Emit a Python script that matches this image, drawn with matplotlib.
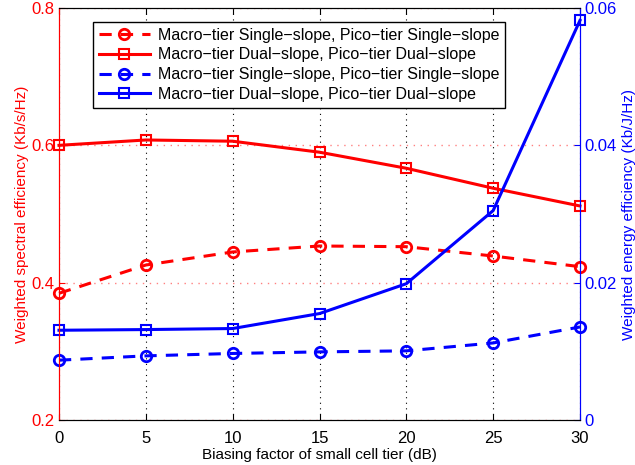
import numpy as np
import matplotlib.pyplot as plt

plt.rcParams['font.family'] = ['Liberation Sans', 'DejaVu Sans']

bias_db = [0, 5, 10, 15, 20, 25, 30]
se_single = [0.3845, 0.4257, 0.4447, 0.4534, 0.4524, 0.4388, 0.4233]
se_dual = [0.600, 0.6078, 0.606, 0.590, 0.5666, 0.5375, 0.5117]
ee_single = [0.00871, 0.00934, 0.00969, 0.00992, 0.01007, 0.01122, 0.01355]
ee_dual = [0.01307, 0.01317, 0.01332, 0.0155, 0.01985, 0.0305, 0.0582]

labels = ["Macro\u2212tier Single\u2212slope, Pico\u2212tier Single\u2212slope",
          "Macro\u2212tier Dual\u2212slope, Pico\u2212tier Dual\u2212slope"]

fig = plt.figure(figsize=(6.35, 4.65), dpi=100)
ax = fig.add_axes([59/635, 45/465, 521/635, 412/465])
ax2 = ax.twinx()

l1, = ax.plot(bias_db, se_single, 'r--o', lw=2.2, ms=7.5, mfc='none', mew=2, dashes=(4, 3))
l2, = ax.plot(bias_db, se_dual, 'r-s', lw=2.2, ms=6.5, mfc='none', mew=1.5)
l3, = ax2.plot(bias_db, ee_single, 'b--o', lw=2.2, ms=7.5, mfc='none', mew=2, dashes=(4, 3))
l4, = ax2.plot(bias_db, ee_dual, 'b-s', lw=2.2, ms=6.5, mfc='none', mew=1.5)
for l in (l1, l2, l3, l4):
    l.set_clip_on(False)

ax.set_xlim(0, 30)
ax.set_ylim(0.2, 0.8)
ax.set_xticks(bias_db)
ax.set_yticks([0.2, 0.4, 0.6, 0.8])
ax2.set_ylim(0, 0.06)
ax2.set_yticks([0, 0.02, 0.04, 0.06])
ax2.set_yticklabels(['0', '0.02', '0.04', '0.06'])

ax.xaxis.grid(True, linestyle=(0, (1, 4)), color='black', lw=0.8)
ax.yaxis.grid(True, linestyle=(0, (1, 4)), color='#ff8080', lw=1.0)

ax.tick_params(axis='x', direction='in', labelsize=12, top=True, length=4, pad=8)
ax.tick_params(axis='y', direction='in', colors='red', labelsize=12, length=4, pad=3)
ax2.tick_params(axis='y', direction='in', colors='blue', labelsize=12, length=4, pad=3)

ax.spines['left'].set_color('red')
ax2.spines['left'].set_color('red')
ax2.spines['right'].set_color('blue')
ax.spines['right'].set_color('blue')

ax.set_xlabel("Biasing factor of small cell tier (dB)", fontsize=11, labelpad=1)
ax.set_ylabel("Weighted spectral efficiency (Kb/s/Hz)", color='red', fontsize=11, labelpad=2)
ax2.set_ylabel("Weighted energy efficiency (Kb/J/Hz)", color='blue', fontsize=11, labelpad=4)

ax2.legend([l1, l2, l3, l4], labels * 2, loc='upper left',
           bbox_to_anchor=(34/521, 1 - 14/412), fontsize=11.5, frameon=True,
           fancybox=False, edgecolor='black', framealpha=1, borderaxespad=0,
           handlelength=3.2, labelspacing=0.3, handletextpad=0.5, borderpad=0.35)

fig.savefig("out.png", dpi=100)
